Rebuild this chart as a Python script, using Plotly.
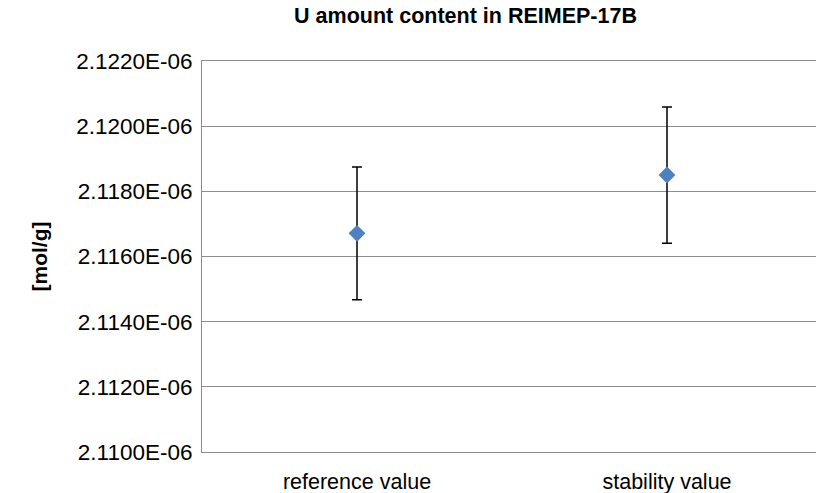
import plotly.graph_objects as go

categories = ["reference value", "stability value"]
values = [2.11671e-06, 2.11850e-06]
uncertainties = [0.00204e-06, 0.00209e-06]
tick_vals = [2.110e-06, 2.112e-06, 2.114e-06, 2.116e-06, 2.118e-06, 2.120e-06, 2.122e-06]
tick_text = ["2.1100E-06", "2.1120E-06", "2.1140E-06", "2.1160E-06", "2.1180E-06", "2.1200E-06", "2.1220E-06"]

FONT = "Liberation Sans, Arial, sans-serif"

fig = go.Figure()
fig.add_trace(go.Scatter(
    x=[0, 1],
    y=values,
    mode="markers",
    marker=dict(symbol="diamond", size=13, color="#4F81BD"),
    error_y=dict(type="data", array=uncertainties, visible=True,
                 color="black", thickness=1.5, width=5),
    showlegend=False,
))

fig.update_layout(
    width=816, height=493,
    margin=dict(l=202, r=0, t=61, b=41),
    paper_bgcolor="white", plot_bgcolor="white",
    title=dict(text="<b>U amount content in REIMEP-17B</b>",
               font=dict(family=FONT, size=21.5, color="black"),
               x=0.5705, xref="container", xanchor="center",
               y=0.969, yref="container", yanchor="middle"),
    xaxis=dict(range=[-0.5, 1.4806], tickvals=[0, 1], ticktext=categories,
               showgrid=False, zeroline=False, showline=True, mirror=True,
               linecolor="#8c8c8c", linewidth=1, ticks="",
               tickfont=dict(family=FONT, size=21.5, color="black"),
               ticklabelstandoff=10),
    yaxis=dict(range=[2.110e-06, 2.122e-06], tickvals=tick_vals, ticktext=tick_text,
               showgrid=True, gridcolor="#8c8c8c", gridwidth=1,
               zeroline=False, showline=True, linecolor="#8c8c8c", linewidth=1,
               ticks="", tickfont=dict(family=FONT, size=22.5, color="black"),
               ticklabelstandoff=4,
               title=dict(text="<b>[mol/g]</b>", standoff=22,
                          font=dict(family=FONT, size=21, color="black"))),
)

fig.write_html(
    "out.html",
    config={"displayModeBar": False},
    post_script="document.body.style.margin='0px';document.body.style.overflow='hidden';",
)
